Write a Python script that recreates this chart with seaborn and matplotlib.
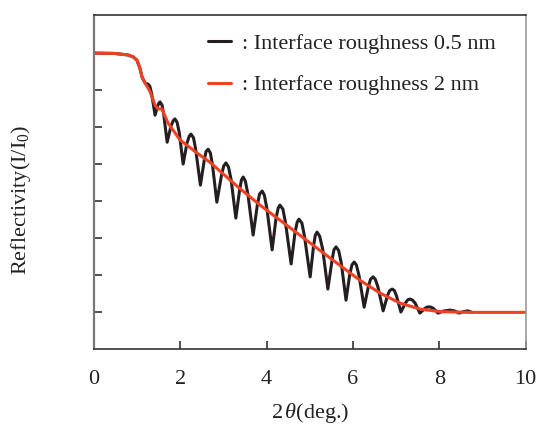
import numpy as np
import pandas as pd
import matplotlib
matplotlib.use("Agg")
import matplotlib.pyplot as plt
import seaborn as sns

# 2theta (deg.) and log10(I/I0)
rough05_x = [0.00, 0.49, 0.79, 0.91, 1.00, 1.07, 1.12, 1.19, 1.26, 1.30, 1.34,
             1.42, 1.48, 1.51, 1.535, 1.58, 1.62,
             1.70, 1.79, 1.84, 1.88, 1.93, 1.98,
             2.07, 2.16, 2.21, 2.25, 2.31, 2.36,
             2.47, 2.56, 2.60, 2.65, 2.70, 2.75,
             2.85, 2.96, 3.01, 3.06, 3.12, 3.18,
             3.29, 3.38, 3.42, 3.46, 3.51, 3.57,
             3.69, 3.79, 3.84, 3.90, 3.95, 4.01,
             4.13, 4.22, 4.27, 4.31, 4.38, 4.44,
             4.57, 4.66, 4.71, 4.75, 4.82, 4.88,
             5.01, 5.09, 5.13, 5.17, 5.23, 5.30,
             5.42, 5.52, 5.56, 5.61, 5.67, 5.73,
             5.84, 5.93, 5.98, 6.03, 6.08, 6.14,
             6.26, 6.36, 6.41, 6.47, 6.52, 6.58,
             6.70, 6.80, 6.85, 6.91, 6.96, 7.01,
             7.11, 7.22, 7.27, 7.32, 7.38, 7.44,
             7.55, 7.66, 7.71, 7.76, 7.81, 7.87,
             7.97, 8.11, 8.25, 8.35,
             8.46, 8.56, 8.66, 8.76]
rough05_y = [0.00, -0.01, -0.05, -0.10, -0.19, -0.41, -0.65, -0.81, -0.84, -0.90, -1.09,
             -1.68, -1.43, -1.35, -1.32, -1.40, -1.65,
             -2.41, -1.97, -1.83, -1.78, -1.87, -2.15,
             -3.00, -2.43, -2.25, -2.19, -2.29, -2.60,
             -3.57, -2.89, -2.66, -2.60, -2.70, -3.03,
             -4.03, -3.29, -3.05, -2.97, -3.08, -3.42,
             -4.46, -3.68, -3.43, -3.35, -3.46, -3.82,
             -4.92, -4.09, -3.81, -3.73, -3.84, -4.21,
             -5.32, -4.47, -4.19, -4.11, -4.22, -4.59,
             -5.70, -4.85, -4.57, -4.49, -4.60, -4.96,
             -6.05, -5.20, -4.92, -4.84, -4.95, -5.30,
             -6.38, -5.58, -5.32, -5.24, -5.34, -5.67,
             -6.68, -5.96, -5.72, -5.65, -5.73, -6.01,
             -6.87, -6.30, -6.11, -6.05, -6.12, -6.33,
             -6.97, -6.56, -6.42, -6.38, -6.42, -6.57,
             -7.00, -6.75, -6.67, -6.65, -6.68, -6.76,
             -7.03, -6.91, -6.87, -6.86, -6.87, -6.91,
             -7.03, -6.97, -6.95, -6.97,
             -7.03, -6.99, -6.97, -7.01]

rough2_x = [0.00, 0.49, 0.79, 0.91, 1.00, 1.07, 1.12, 1.19, 1.30, 1.42, 1.49, 1.58,
            1.72, 2.00, 2.39, 2.69, 3.34, 3.85, 5.47, 6.16, 6.63, 7.09, 7.55, 8.02,
            8.71, 10.00]
rough2_y = [0.00, -0.01, -0.05, -0.10, -0.19, -0.41, -0.65, -0.81, -1.03, -1.41, -1.51, -1.51,
            -1.89, -2.35, -2.70, -2.95, -3.62, -4.11, -5.54, -6.14, -6.49, -6.76, -6.92, -6.99,
            -7.01, -7.01]

labels = [": Interface roughness 0.5 nm", ": Interface roughness 2 nm"]
x_ticks = [0, 2, 4, 6, 8, 10]
y_tick_exps = [-7, -6, -5, -4, -3, -2, -1, 0]

df05 = pd.DataFrame({"x": rough05_x, "R": np.power(10.0, rough05_y)})
df2 = pd.DataFrame({"x": rough2_x, "R": np.power(10.0, rough2_y)})

sns.set_theme(style="ticks")
plt.rcParams["font.family"] = ["Liberation Serif", "DejaVu Serif"]
plt.rcParams["mathtext.fontset"] = "custom"
plt.rcParams["mathtext.rm"] = "Liberation Serif"
plt.rcParams["mathtext.it"] = "Liberation Serif:italic"

FS = 16

fig = plt.figure(figsize=(5.37, 4.26), dpi=100)
ax = fig.add_axes([0.1745, 0.1808, 0.8045, 0.784])

black = "#231f20"
red = "#ef4123"
sns.lineplot(data=df05, x="x", y="R", ax=ax, color=black, lw=2.2,
             estimator=None, sort=False, label=labels[0])
sns.lineplot(data=df2, x="x", y="R", ax=ax, color=red, lw=2.2,
             estimator=None, sort=False, label=labels[1])

ax.set_yscale("log")
ax.set_xlim(0, 10)
ax.set_ylim(1e-8, 10 ** 1.03)
ax.set_xticks(x_ticks)
ax.set_xticklabels([str(t) for t in x_ticks])
ax.set_yticks([10.0 ** e for e in y_tick_exps])
ax.yaxis.set_minor_locator(matplotlib.ticker.NullLocator())
ax.set_yticklabels([])
ax.tick_params(axis="both", direction="in", length=6, width=1.2, color="#333333",
               labelsize=FS, labelcolor="#222222", pad=15)

for side in ["top", "right", "bottom", "left"]:
    ax.spines[side].set_visible(True)
    ax.spines[side].set_linewidth(1.2)
    ax.spines[side].set_color("#333333")
ax.spines["left"].set_color("#777777")
ax.spines["left"].set_linewidth(1.6)
ax.spines["right"].set_color("#999999")

ax.set_xlabel(r"2$\,\mathit{\theta}$(deg.)", fontsize=FS, color="#222222", labelpad=9)
ax.set_ylabel(r"Reflectivity(I/I$_0$)", fontsize=FS, color="#222222")
ax.yaxis.set_label_coords(-0.141, 0.446)

leg = ax.legend(loc="upper left", bbox_to_anchor=(0.244, 0.972), frameon=False,
                fontsize=FS, handlelength=1.05, handletextpad=0.5,
                labelspacing=0.95, borderaxespad=0)
for t in leg.get_texts():
    t.set_color("#222222")

fig.savefig("out.png", dpi=100)
